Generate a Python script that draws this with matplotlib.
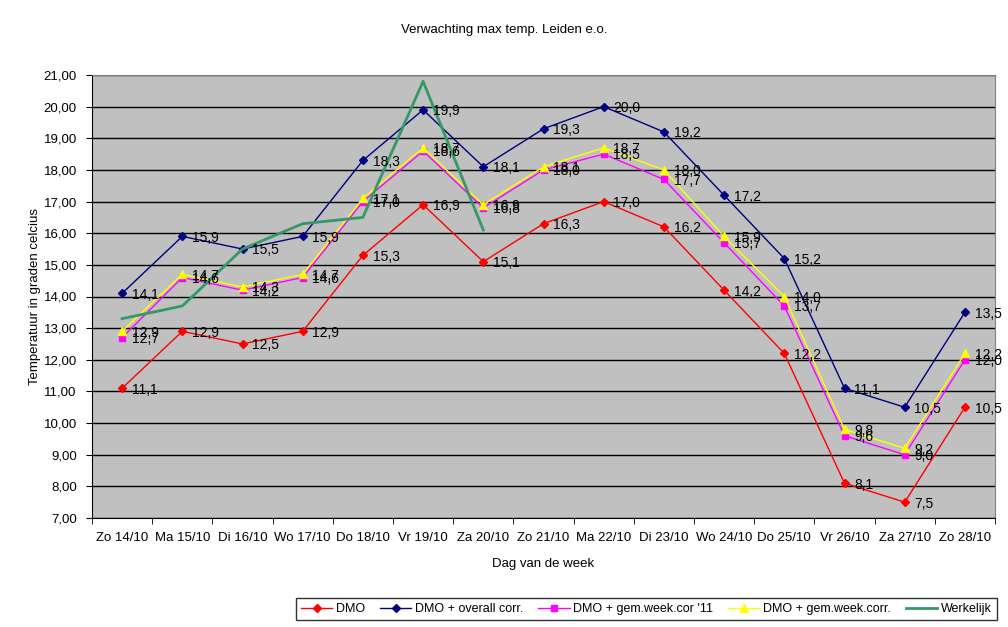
import matplotlib
matplotlib.use("Agg")
import matplotlib.pyplot as plt
from matplotlib.ticker import FixedLocator, FuncFormatter

plt.rcParams['font.family'] = ['Liberation Sans', 'DejaVu Sans']

days = ["Zo 14/10", "Ma 15/10", "Di 16/10", "Wo 17/10", "Do 18/10", "Vr 19/10", "Za 20/10",
        "Zo 21/10", "Ma 22/10", "Di 23/10", "Wo 24/10", "Do 25/10", "Vr 26/10", "Za 27/10", "Zo 28/10"]
dmo = [11.1, 12.9, 12.5, 12.9, 15.3, 16.9, 15.1, 16.3, 17.0, 16.2, 14.2, 12.2, 8.1, 7.5, 10.5]
dmo_overall = [14.1, 15.9, 15.5, 15.9, 18.3, 19.9, 18.1, 19.3, 20.0, 19.2, 17.2, 15.2, 11.1, 10.5, 13.5]
dmo_week11 = [12.7, 14.6, 14.2, 14.6, 17.0, 18.6, 16.8, 18.0, 18.5, 17.7, 15.7, 13.7, 9.6, 9.0, 12.0]
dmo_week = [12.9, 14.7, 14.3, 14.7, 17.1, 18.7, 16.9, 18.1, 18.7, 18.0, 15.9, 14.0, 9.8, 9.2, 12.2]
werkelijk = [13.3, 13.7, 15.5, 16.3, 16.5, 20.8, 16.1]

fig = plt.figure(figsize=(10.08, 6.27), dpi=100)
ax = fig.add_axes([92/1008, 1-518/627, 903/1008, 443/627])
ax.set_facecolor('#C0C0C0')

x = list(range(len(days)))
series = [
    (dmo, 'DMO', '#FF0000', 'D', 4),
    (dmo_overall, 'DMO + overall corr.', '#000080', 'D', 4),
    (dmo_week11, "DMO + gem.week.cor '11", '#FF00FF', 's', 5),
    (dmo_week, 'DMO + gem.week.corr.', '#FFFF00', '^', 6),
]
handles = []
for vals, lab, col, mk, ms in series:
    h, = ax.plot(x, vals, color=col, lw=1, marker=mk, ms=ms, mec=col, mfc=col, label=lab, zorder=3)
    handles.append(h)
    for xi, v in zip(x, vals):
        ax.annotate(f"{v:.1f}".replace('.', ','), (xi, v), xytext=(7, -1), textcoords='offset points',
                    ha='left', va='center', fontsize=10, color='#000000', zorder=5)
h, = ax.plot(range(len(werkelijk)), werkelijk, color='#339966', lw=2, label='Werkelijk', zorder=4)
handles.append(h)

ax.set_xlim(-0.5, len(days) - 0.5)
ax.set_ylim(7, 21)
ax.set_yticks([7 + i for i in range(15)])
ax.yaxis.set_major_formatter(FuncFormatter(lambda v, p: f"{v:.2f}".replace('.', ',')))
ax.yaxis.grid(True, color='black', lw=1)
ax.set_axisbelow(True)
ax.set_xticks(x)
ax.set_xticklabels(days)
ax.tick_params(axis='x', which='major', length=0, labelsize=9.5, pad=10)
ax.xaxis.set_minor_locator(FixedLocator([i - 0.5 for i in range(len(days) + 1)]))
ax.tick_params(axis='x', which='minor', length=4, direction='out')
ax.tick_params(axis='y', labelsize=9.5, length=4, direction='out', pad=7)
for s in ['top', 'right']:
    ax.spines[s].set_color('#808080')
ax.spines['left'].set_color('black')
ax.spines['bottom'].set_color('black')

ax.set_ylabel('Temperatuur in graden celcius', fontsize=9.5, labelpad=2)
ax.set_xlabel('Dag van de week', fontsize=9.5, labelpad=10)
fig.text(0.5, 1-30/627, 'Verwachting max temp. Leiden e.o.', ha='center', va='center', fontsize=9.5)

leg = fig.legend(handles=handles, loc='center right', bbox_to_anchor=(997/1008, 1-609/627), ncol=5,
                 fontsize=9, frameon=True, fancybox=False, edgecolor='black', borderpad=0.4,
                 handlelength=2.5, columnspacing=1.2, handletextpad=0.3, borderaxespad=0)
leg.get_frame().set_linewidth(1)

fig.savefig('out.png', dpi=100)
